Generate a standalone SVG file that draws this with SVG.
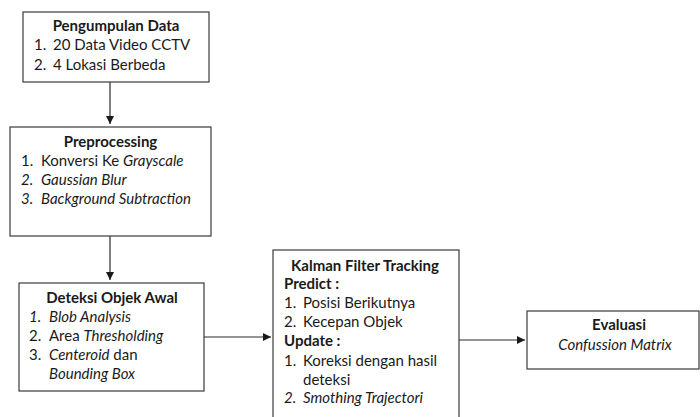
<svg xmlns="http://www.w3.org/2000/svg" width="700" height="417" viewBox="0 0 700 417">
<style>
.box{fill:#ffffff;stroke:#3a3a3a;stroke-width:1.2}
text{font-family:Lato,"Open Sans","Liberation Sans",sans-serif;font-size:15px;fill:#1a1a1a}
.t{font-weight:bold;text-anchor:middle}
.b{font-weight:bold}
.i{font-style:italic}
.c{text-anchor:middle}
.ln{stroke:#2a2a2a;stroke-width:1.2;fill:none}
</style>
<defs>
<marker id="ah" viewBox="0 0 10 10" refX="10" refY="5" markerWidth="8" markerHeight="8" markerUnits="userSpaceOnUse" orient="auto">
<path d="M0,0 L10,5 L0,10 Z" fill="#1a1a1a"/>
</marker>
</defs>
<rect width="700" height="417" fill="#ffffff"/>
<g id="connectors">
<line class="ln" x1="110" y1="82" x2="110" y2="124" marker-end="url(#ah)"/>
<line class="ln" x1="110" y1="236" x2="110" y2="280" marker-end="url(#ah)"/>
<line class="ln" x1="204" y1="337" x2="271" y2="337" marker-end="url(#ah)"/>
<line class="ln" x1="459" y1="340" x2="525" y2="340" marker-end="url(#ah)"/>
</g>
<g id="pengumpulan">
<rect class="box" x="23" y="12" width="186" height="70"/>
<text class="t" x="116" y="31">Pengumpulan Data</text>
<text x="34" y="50">1.</text><text x="53" y="50">20 Data Video CCTV</text>
<text x="34" y="70">2.</text><text x="53" y="70">4 Lokasi Berbeda</text>
</g>
<g id="preprocessing">
<rect class="box" x="10" y="127" width="201" height="109"/>
<text class="t" x="110.5" y="147">Preprocessing</text>
<text x="21" y="166">1.</text><text x="41" y="166">Konversi Ke <tspan class="i">Grayscale</tspan></text>
<text class="i" x="21" y="185">2.</text><text class="i" x="41" y="185">Gaussian Blur</text>
<text class="i" x="21" y="204">3.</text><text class="i" x="41" y="204">Background Subtraction</text>
</g>
<g id="deteksi">
<rect class="box" x="19" y="283" width="185" height="108"/>
<text class="t" x="112" y="303">Deteksi Objek Awal</text>
<text class="i" x="29" y="322">1.</text><text class="i" x="49" y="322">Blob Analysis</text>
<text x="29" y="341">2.</text><text x="49" y="341">Area <tspan class="i">Thresholding</tspan></text>
<text x="29" y="360">3.</text><text x="49" y="360"><tspan class="i">Centeroid</tspan> dan</text>
<text class="i" x="49" y="379">Bounding Box</text>
</g>
<g id="kalman">
<rect class="box" x="273" y="250" width="186" height="180"/>
<text class="t" x="365" y="271">Kalman Filter Tracking</text>
<text class="b" x="284" y="289">Predict :</text>
<text x="284" y="308">1.</text><text x="303" y="308">Posisi Berikutnya</text>
<text x="284" y="327">2.</text><text x="303" y="327">Kecepan Objek</text>
<text class="b" x="284" y="346">Update :</text>
<text x="284" y="366">1.</text><text x="303" y="366">Koreksi dengan hasil</text>
<text x="303" y="385">deteksi</text>
<text class="i" x="284" y="403">2.</text><text class="i" x="303" y="403">Smothing Trajectori</text>
</g>
<g id="evaluasi">
<rect class="box" x="527" y="311" width="172" height="58"/>
<text class="t" x="619" y="330">Evaluasi</text>
<text class="c i" x="615" y="350">Confussion Matrix</text>
</g>
</svg>
